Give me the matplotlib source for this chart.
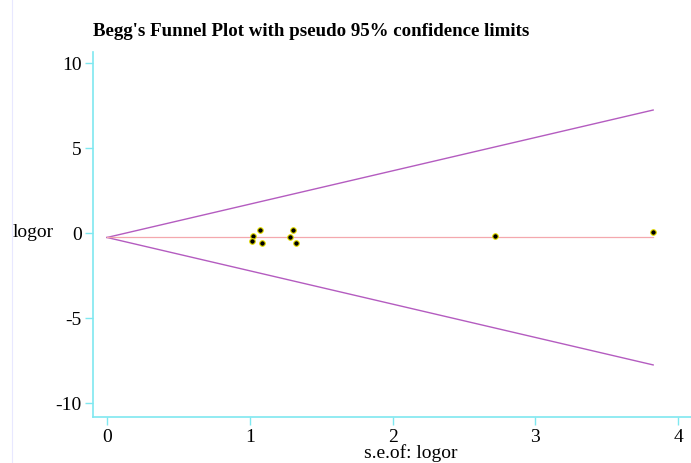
import matplotlib
matplotlib.use("Agg")
import matplotlib.pyplot as plt
import numpy as np

# Study data (standard error of logor, logor)
se = [1.021, 1.013, 1.072, 1.088, 1.303, 1.284, 1.326, 2.716, 3.825]
logor = [-0.16, -0.45, 0.16, -0.61, 0.19, -0.24, -0.61, -0.16, 0.04]
pooled = -0.26
z = 1.96
xticks = [0, 1, 2, 3, 4]
yticks = [-10, -5, 0, 5, 10]

fig = plt.figure(figsize=(6.91, 4.63), dpi=100)
ax = fig.add_axes([93/691, 1-417/463, 1-93/691, (417-52)/463])

plt.rcParams['font.family'] = ['Liberation Serif']
serif = 'Liberation Serif'

smax = max(se)
sx = np.array([0, smax])
ax.plot(sx, pooled + z*sx, color='#b45cc0', lw=1.0)
ax.plot(sx, pooled - z*sx, color='#b45cc0', lw=1.0)
ax.plot(sx, [pooled, pooled], color='#f4a8ae', lw=0.9)
ax.plot(se, logor, 'o', ms=4, mfc='black', mec='#e8e000', mew=0.8, ls='none')

ax.set_xlim(-0.098, 4.09)
ax.set_ylim(-10.82, 10.65)
ax.set_xticks(xticks)
ax.set_yticks(yticks)
ax.set_xticklabels([str(t) for t in xticks], fontfamily=serif, fontsize=14)
ax.set_yticklabels([str(t) for t in yticks], fontfamily=serif, fontsize=14)
for s in ['top', 'right']:
    ax.spines[s].set_visible(False)
for s in ['left', 'bottom']:
    ax.spines[s].set_color('#7fe8f0')
    ax.spines[s].set_linewidth(1.2)
ax.tick_params(axis='both', direction='out', length=6, color='#7fe8f0', width=1.0)
ax.tick_params(axis='x', pad=3)
ax.tick_params(axis='y', pad=2)

fig.text(13/691, 1-233/463, 'logor', fontfamily=serif, fontsize=14, ha='left', va='center')
fig.text(411/691, 1-458/463, 's.e.of: logor', fontfamily=serif, fontsize=14,
         ha='center', va='baseline')
fig.text(93/691, 1-31/463, "Begg's Funnel Plot with pseudo 95% confidence limits",
         fontfamily=serif, fontsize=13.6, fontweight='bold', ha='left', va='center')
fig.add_artist(plt.Line2D([12/691, 12/691], [0, 1], color='#e8e8ff', lw=0.8, transform=fig.transFigure))

fig.savefig('out.png', dpi=100)
